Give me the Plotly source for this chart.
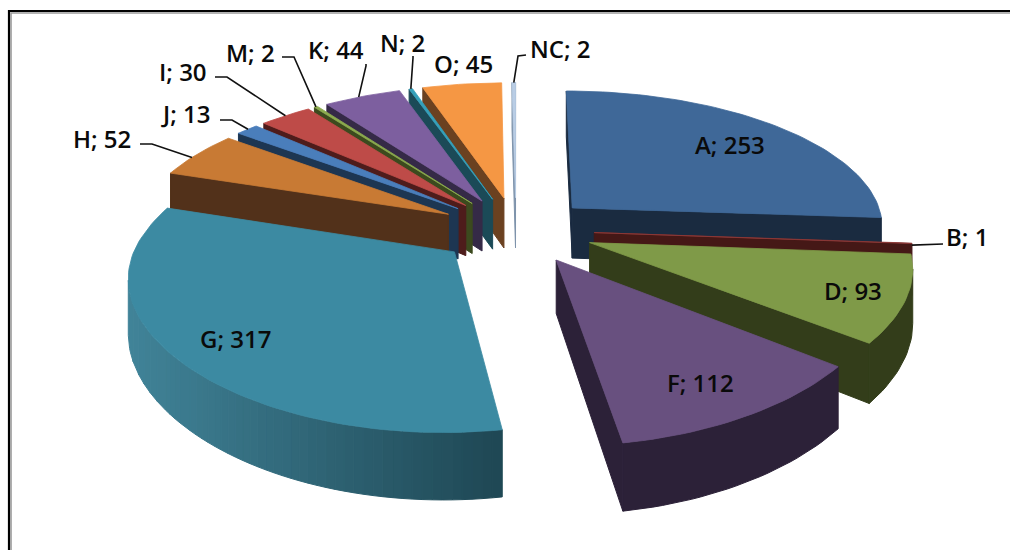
import math
import plotly.graph_objects as go

categories = ["A", "B", "D", "F", "G", "H", "J", "I", "M", "K", "N", "O", "NC"]
values = [253, 1, 93, 112, 317, 52, 13, 30, 2, 44, 2, 45, 2]

top_colors = ["#3F6898", "#8E3A38", "#7F9A48", "#68507F", "#3C8AA2", "#C87A34", "#4A7EBB",
              "#BE4B48", "#8CAB4E", "#7D5F9F", "#35A0BA", "#F59744", "#B9CDE5"]
wall_dark = ["#1A2B40", "#451816", "#333D1A", "#2C2138", "#1F4855", "#52311A", "#1D3652",
             "#4E1C1B", "#3C4A1E", "#352A47", "#1B4A57", "#6B4120", "#7E93AB"]
wall_light = ["#1A2B40", "#451816", "#333D1A", "#36263F", "#418499", "#52311A", "#1D3652",
              "#4E1C1B", "#3C4A1E", "#352A47", "#1B4A57", "#6B4120", "#7E93AB"]
label_pos = {"A": (730, 144), "B": (967, 236), "D": (853, 290), "F": (700, 382), "G": (235, 338),
             "H": (102, 138), "J": (185, 113), "I": (183, 71), "M": (250, 52), "K": (336, 49),
             "N": (402, 42), "O": (463, 63), "NC": (560, 48)}
# Leader: elbow next to the label, and a fraction of the slice's span where it meets the rim
leaders = {"B": (943, 244, 0.5), "H": (152, 144, 0.42), "J": (232, 120, 0.55), "I": (227, 77, 0.5),
           "M": (294, 57, 0.5), "K": (366, 64, 0.45), "N": (413, 56, 0.5), "NC": (515, 55, 0.5)}

CX, CY, RX, RY, EXPLODE, WALL = 516, 230, 313, 132, 0.25, 51
PX_FRONT, PY_FRONT, PX_BACK, PY_BACK = 0.15, 0.21, 0.12, 0.095
total = sum(values)


def project(u, v, z=0.0):
    sx = 1 / (1 - (PX_FRONT if v > 0 else PX_BACK) * v)
    sy = 1 / (1 - (PY_FRONT if v > 0 else PY_BACK) * v)
    return CX + u * RX * sx, CY + v * RY * sy + z * WALL * sy


def rim(th, ox, oy):
    return ox + math.sin(th), oy - math.cos(th)


def area(pts):
    return sum(pts[i][0] * pts[(i + 1) % len(pts)][1] - pts[(i + 1) % len(pts)][0] * pts[i][1]
               for i in range(len(pts))) / 2


def mix(c1, c2, t):
    a = [int(c1[i:i + 2], 16) for i in (1, 3, 5)]
    b = [int(c2[i:i + 2], 16) for i in (1, 3, 5)]
    return "#%02x%02x%02x" % tuple(round(x + (y - x) * t) for x, y in zip(a, b))


fig = go.Figure()


def poly(pts, color, lw=0.8):
    fig.add_trace(go.Scatter(x=[p[0] for p in pts] + [pts[0][0]], y=[p[1] for p in pts] + [pts[0][1]],
                             mode="lines", fill="toself", fillcolor=color,
                             line=dict(color=color, width=lw), hoverinfo="skip", showlegend=False))


slices = []
cum = 0
for i, val in enumerate(values):
    a0 = cum / total * 2 * math.pi
    cum += val
    a1 = cum / total * 2 * math.pi
    mid = (a0 + a1) / 2
    ox, oy = EXPLODE * math.sin(mid), -EXPLODE * math.cos(mid)
    slices.append(dict(i=i, a0=a0, a1=a1, mid=mid, ox=ox, oy=oy))

for sl in sorted(slices, key=lambda s: s["oy"]):
    i, a0, a1, ox, oy = sl["i"], sl["a0"], sl["a1"], sl["ox"], sl["oy"]
    n = max(2, int((a1 - a0) / math.radians(1.5)))
    ths = [a0 + (a1 - a0) * k / n for k in range(n + 1)]
    outline = [(ox, oy)] + [rim(t, ox, oy) for t in ths]
    loop = outline + [(ox, oy)]
    bands = []
    for k in range(len(loop) - 1):
        a, b = loop[k], loop[k + 1]
        q = [project(*a), project(*b), project(*b, 1), project(*a, 1)]
        if area(q) >= 0:
            continue
        if k in (0, len(loop) - 2):
            poly(q, wall_dark[i], 1.0)
            continue
        t = min(max((q[0][0] - 125) / (500 - 125), 0), 1)
        c = mix(wall_light[i], wall_dark[i], round(t * 60) / 60)
        if bands and bands[-1][0] == c:
            bands[-1][1].append(q)
        else:
            bands.append((c, [q]))
    for c, qs in bands:
        top = [qs[0][0]] + [q[1] for q in qs]
        bottom = [qs[0][3]] + [q[2] for q in qs]
        poly(top + bottom[::-1], c, 1.0)
    poly([project(*p) for p in outline], top_colors[i])

# frame of the chart area (left and top only are in view)
for xs, ys, col, w in [([9, 9, 1010], [550, 11, 11], "#000000", 2.2), ([11, 11, 1010], [550, 13, 13], "#9a9a9a", 1.6)]:
    fig.add_trace(go.Scatter(x=xs, y=ys, mode="lines", line=dict(color=col, width=w),
                             hoverinfo="skip", showlegend=False))

for sl in slices:
    name = categories[sl["i"]]
    lx, ly = label_pos[name]
    if name in leaders:
        ex, ey, frac = leaders[name]
        p = project(*rim(sl["a0"] + (sl["a1"] - sl["a0"]) * frac, sl["ox"], sl["oy"]))
        if name == "NC":
            xs, ys = [lx - 34, ex + 3, p[0]], [ey, ey + 1, p[1]]
        elif name == "B":
            xs, ys = [ex, p[0]], [ey, p[1] + 2]
        elif name in ("K", "N"):
            xs, ys = [ex, ex, p[0]], [ey, ey + 2, p[1]]
        else:
            xs, ys = [ex - 12, ex, p[0]], [ey, ey, p[1]]
        fig.add_trace(go.Scatter(x=xs, y=ys, mode="lines", line=dict(color="#111111", width=1.6),
                                 hoverinfo="skip", showlegend=False))
    fig.add_annotation(x=lx, y=ly, text=f"{name}; {values[sl['i']]}", showarrow=False,
                       font=dict(family="Open Sans", size=24, color="#0a0a0a", weight=600),
                       xanchor="center", yanchor="middle")

fig.update_xaxes(range=[0, 1010], visible=False, fixedrange=True)
fig.update_yaxes(range=[550, 0], visible=False, fixedrange=True)
fig.update_layout(width=1010, height=550, margin=dict(l=0, r=0, t=0, b=0), paper_bgcolor="white",
                  plot_bgcolor="white", showlegend=False)
fig.write_html("out.html", config=dict(displayModeBar=False),
               post_script="document.body.style.margin='0';document.body.style.overflow='hidden';")
